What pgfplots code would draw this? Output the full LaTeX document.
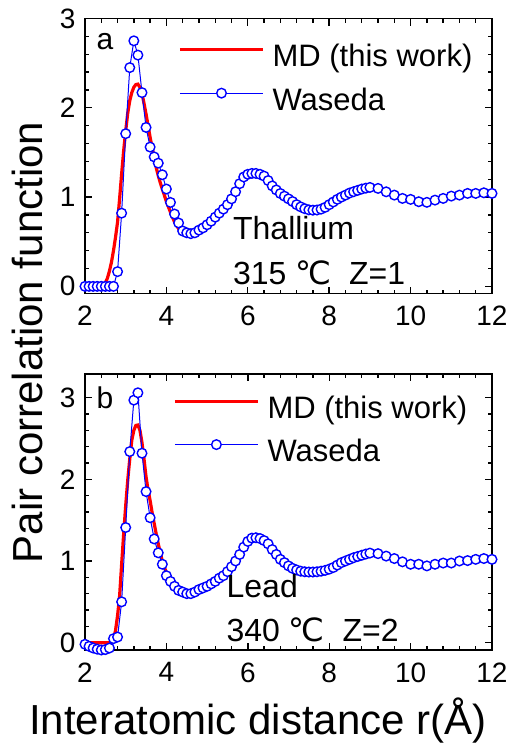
\documentclass[border=0pt]{standalone}
\usepackage{fontspec}
\setmainfont{Liberation Sans}
\newfontfamily\dejavu{DejaVu Sans}
\usepackage{pgfplots}
\pgfplotsset{compat=1.18}

\pgfplotsset{
  panel/.style={
    scale only axis, width=203.5pt,
    xmin=2, xmax=12, xtick={2,4,...,12}, ytick={0,1,2,3},
    minor x tick num=4, minor y tick num=4,
    tick align=inside, tick pos=both,
    major tick length=3.5pt, minor tick length=2pt,
    axis line style={line width=0.85pt},
    every tick/.style={black, line width=0.7pt},
    tick label style={font=\fontsize{14}{16}\selectfont},
    /pgf/number format/assume math mode=true,
    xticklabel style={yshift=-2.8pt},
    yticklabel style={xshift=-1.3pt},
    clip mode=individual,
    legend cell align=left,
    legend style={draw=none, fill=none, inner sep=0pt, row sep=7pt,
      column sep=4pt,
      font=\fontsize{15.5}{18}\selectfont,
      nodes={inner sep=0pt, text height=11.5pt, text depth=3.2pt}},
    legend image code/.code={\draw[mark repeat=2,mark phase=2,#1]
      plot coordinates {(0pt,4.3pt) (20.75pt,4.3pt) (41.5pt,4.3pt)};},
  },
  md/.style={red, line width=1.6pt, no marks},
  wa/.style={blue, line width=0.5pt, mark=*, mark size=2.4pt,
    mark options={draw=blue, fill=white, line width=0.7pt, solid}},
}
\tikzset{note/.style={font=\fontsize{16}{18}\selectfont, anchor=base west, inner sep=0pt}}

\begin{document}
\begin{tikzpicture}
% top panel: thallium
\begin{axis}[panel, height=137.5pt, ymin=-0.08, ymax=3,
    at={(42.5pt,228.75pt)}, anchor=south west,
    ylabel={Pair correlation function},
    ylabel style={font=\fontsize{21}{24}\selectfont, at={(rel axis cs:-0.1425,-0.178)}, anchor=center},
    legend style={at={(rel axis cs:0.2285,0.91)}, anchor=north west}]
\addplot[md] coordinates {
(2.0,0)(2.2,0)(2.4,0)(2.45,0.005)(2.5,0.04)(2.55,0.09)(2.6,0.17)(2.65,0.27)(2.7,0.40)
(2.75,0.55)(2.8,0.72)(2.85,0.98)(2.9,1.26)(2.95,1.52)(3.0,1.74)(3.05,1.94)(3.1,2.08)
(3.15,2.17)(3.2,2.23)(3.25,2.26)(3.3,2.265)(3.35,2.23)(3.4,2.16)(3.45,2.05)(3.5,1.93)
(3.55,1.80)(3.6,1.67)(3.65,1.55)(3.7,1.44)(3.75,1.33)(3.8,1.24)(3.85,1.16)(3.9,1.09)
(3.95,1.02)(4.0,0.95)(4.1,0.83)(4.2,0.72)(4.3,0.645)(4.4,0.60)(4.5,0.58)(4.6,0.575)
(4.8,0.625)(5.0,0.70)(5.2,0.785)(5.4,0.875)(5.6,0.99)(5.8,1.14)(6.0,1.24)(6.2,1.26)
(6.4,1.235)(6.6,1.13)(6.8,1.045)(7.0,0.98)(7.2,0.915)(7.4,0.87)(7.6,0.853)(7.8,0.865)
(8.0,0.915)(8.2,0.975)(8.4,1.022)(8.6,1.06)(8.8,1.09)(9.0,1.105)(9.2,1.095)(9.4,1.063)
(9.6,1.025)(9.8,0.99)(10.0,0.968)(10.2,0.952)(10.4,0.945)(10.6,0.965)(10.8,0.985)
(11.0,1.005)(11.2,1.022)(11.4,1.035)(11.6,1.041)(11.8,1.046)(12.0,1.041)
};
\addlegendentry{MD (this work)}
\addplot[wa] coordinates {
(2.0,0)(2.1,0)(2.2,0)(2.3,0)(2.4,0)(2.5,0)(2.6,0)(2.7,0)(2.8,0.165)(2.9,0.82)
(3.0,1.71)(3.1,2.45)(3.2,2.75)(3.3,2.59)(3.4,2.17)(3.5,1.78)(3.6,1.56)(3.7,1.45)
(3.8,1.38)(3.9,1.25)(4.0,1.09)(4.1,0.94)(4.2,0.81)(4.3,0.71)(4.4,0.62)(4.5,0.60)
(4.6,0.59)(4.7,0.60)(4.8,0.63)(4.9,0.655)(5.0,0.69)(5.1,0.73)(5.2,0.775)(5.3,0.82)
(5.4,0.865)(5.5,0.915)(5.6,0.98)(5.7,1.06)(5.8,1.15)(5.9,1.225)(6.0,1.255)(6.1,1.265)
(6.2,1.265)(6.3,1.255)(6.4,1.235)(6.5,1.185)(6.6,1.125)(6.7,1.08)(6.8,1.04)(6.9,1.01)
(7.0,0.98)(7.1,0.95)(7.2,0.915)(7.3,0.89)(7.4,0.87)(7.5,0.857)(7.6,0.853)(7.7,0.855)
(7.8,0.865)(7.9,0.885)(8.0,0.915)(8.1,0.945)(8.2,0.975)(8.3,1.0)(8.4,1.022)(8.5,1.045)
(8.6,1.06)(8.7,1.075)(8.8,1.09)(8.9,1.10)(9.0,1.108)(9.2,1.097)(9.4,1.059)(9.6,1.022)
(9.8,0.985)(10.0,0.974)(10.2,0.948)(10.4,0.941)(10.6,0.966)(10.8,0.985)(11.0,1.011)
(11.2,1.022)(11.4,1.041)(11.6,1.041)(11.8,1.048)(12.0,1.041)
};
\addlegendentry{Waseda}
\node[font=\fontsize{15}{17}\selectfont] at (axis cs:2.49,2.74) {a};
\node[note] at (axis cs:5.63,0.52) {Thallium};
\node[note] at (axis cs:5.63,0.017) {315 {\dejavu ℃}\ \ Z=1};
\end{axis}

% bottom panel: lead
\begin{axis}[panel, height=138pt, ymin=-0.09, ymax=3.29,
    at={(42.5pt,50.5pt)}, anchor=south west,
    xlabel={Interatomic distance r(Å)},
    xlabel style={font=\fontsize{21}{24}\selectfont, at={(rel axis cs:0.425,-0.254)}, anchor=center},
    legend style={at={(rel axis cs:0.216,0.925)}, anchor=north west}]
\addplot[md] coordinates {
(2.0,0)(2.2,0)(2.4,0)(2.6,0)(2.65,0.005)(2.7,0.04)(2.75,0.15)(2.8,0.33)(2.85,0.57)
(2.9,0.96)(2.95,1.33)(3.0,1.68)(3.05,1.99)(3.1,2.25)(3.15,2.48)(3.2,2.60)(3.25,2.66)
(3.3,2.665)(3.35,2.60)(3.4,2.45)(3.45,2.25)(3.5,2.03)(3.55,1.87)(3.6,1.74)(3.65,1.59)
(3.7,1.46)(3.75,1.33)(3.8,1.21)(3.85,1.10)(3.9,1.0)(3.95,0.92)(4.0,0.86)(4.1,0.77)
(4.2,0.70)(4.3,0.655)(4.4,0.62)(4.5,0.60)(4.6,0.595)(4.8,0.645)(5.0,0.69)(5.2,0.75)
(5.4,0.82)(5.6,0.925)(5.8,1.07)(6.0,1.22)(6.2,1.265)(6.4,1.24)(6.6,1.14)(6.8,1.02)
(7.0,0.94)(7.2,0.89)(7.4,0.868)(7.6,0.865)(7.8,0.875)(8.0,0.90)(8.2,0.95)(8.4,1.0)
(8.6,1.04)(8.8,1.07)(9.0,1.095)(9.2,1.09)(9.4,1.06)(9.6,1.03)(9.8,0.99)(10.0,0.965)
(10.2,0.955)(10.4,0.945)(10.6,0.96)(10.8,0.975)(11.0,0.985)(11.2,1.0)(11.4,1.008)
(11.6,1.02)(11.8,1.028)(12.0,1.022)
};
\addlegendentry{MD (this work)}
\addplot[wa] coordinates {
(2.0,-0.02)(2.1,-0.045)(2.2,-0.066)(2.3,-0.08)(2.4,-0.09)(2.5,-0.085)(2.6,-0.066)
(2.7,0.049)(2.8,0.069)(2.9,0.50)(3.0,1.41)(3.1,2.34)(3.2,2.97)(3.3,3.06)(3.4,2.32)
(3.5,1.85)(3.6,1.53)(3.7,1.27)(3.8,1.10)(3.9,0.96)(4.0,0.82)(4.1,0.75)(4.2,0.69)
(4.3,0.64)(4.4,0.62)(4.5,0.60)(4.6,0.60)(4.7,0.62)(4.8,0.65)(4.9,0.67)(5.0,0.69)
(5.1,0.72)(5.2,0.75)(5.3,0.79)(5.4,0.82)(5.5,0.87)(5.6,0.93)(5.7,1.0)(5.8,1.08)
(5.9,1.17)(6.0,1.24)(6.1,1.28)(6.2,1.285)(6.3,1.275)(6.4,1.25)(6.5,1.21)(6.6,1.14)
(6.7,1.08)(6.8,1.02)(6.9,0.98)(7.0,0.94)(7.1,0.91)(7.2,0.89)(7.3,0.875)(7.4,0.868)
(7.5,0.865)(7.6,0.865)(7.7,0.868)(7.8,0.875)(7.9,0.885)(8.0,0.90)(8.1,0.92)(8.2,0.95)
(8.3,0.98)(8.4,1.0)(8.5,1.02)(8.6,1.04)(8.7,1.055)(8.8,1.07)(8.9,1.085)(9.0,1.097)
(9.2,1.09)(9.4,1.06)(9.6,1.03)(9.8,0.99)(10.0,0.96)(10.2,0.96)(10.4,0.94)(10.6,0.96)
(10.8,0.975)(11.0,0.975)(11.2,1.0)(11.4,1.005)(11.6,1.02)(11.8,1.03)(12.0,1.02)
};
\addlegendentry{Waseda}
\node[font=\fontsize{15}{17}\selectfont] at (axis cs:2.49,3.0) {b};
\node[note] at (axis cs:5.47,0.555) {Lead};
\node[note] at (axis cs:5.47,0.02) {340 {\dejavu ℃}\ \ Z=2};
\end{axis}
\pgfresetboundingbox
\useasboundingbox (0,0) rectangle (255pt,375.5pt);
\end{tikzpicture}
\end{document}
